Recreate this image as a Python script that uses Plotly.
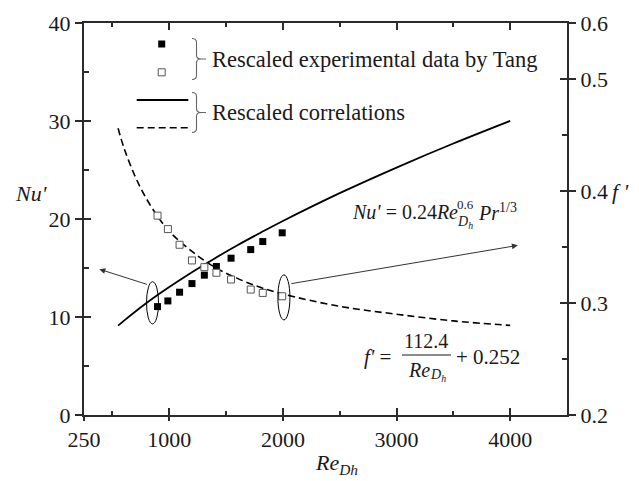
import plotly.graph_objects as go

# ---------------- data ----------------
re_exp = [897, 988, 1091, 1200, 1309, 1415, 1544, 1717, 1823, 1994]
nu_exp = [11.06, 11.64, 12.53, 13.41, 14.27, 15.15, 16.00, 16.88, 17.70, 18.59]
f_exp = [0.378, 0.366, 0.352, 0.338, 0.332, 0.327, 0.321, 0.312, 0.309, 0.306]

re_corr = [550, 600, 700, 800, 900, 1000, 1200, 1400, 1600, 1800, 2000, 2500, 3000, 3500, 4000]
nu_corr = [9.12, 9.61, 10.54, 11.42, 12.26, 13.06, 14.57, 15.98, 17.32, 18.58, 19.80, 22.64, 25.25, 27.70, 30.01]
f_corr = [0.456, 0.439, 0.413, 0.393, 0.377, 0.364, 0.346, 0.332, 0.322, 0.314, 0.308, 0.297, 0.290, 0.284, 0.280]

x_ticks = [250, 1000, 2000, 3000, 4000]
x_minor = [500, 1500, 2500, 3500]
nu_ticks = [0, 10, 20, 30, 40]
nu_minor = [5, 15, 25, 35]
f_ticks = [0.2, 0.3, 0.4, 0.5, 0.55]
f_ticktext = ["0.2", "0.3", "0.4", "0.5", "0.6"]
f_minor = [0.25, 0.35, 0.45]

legend_labels = ["Rescaled experimental data by Tang", "Rescaled correlations"]

# ---------------- geometry helpers ----------------
W, H = 639, 481
L, R, T, B = 84, 72, 23, 66
PW, PH = W - L - R, H - T - B


def px(x):
    return (x - L) / PW


def py(y):
    return (H - B - y) / PH


AX = "#2b2b2b"
TXT = "#1a1a1a"
SERIF = "Liberation Serif"
tickfont = dict(family=SERIF, size=22, color=TXT)

fig = go.Figure()

fig.add_trace(go.Scatter(x=re_corr, y=nu_corr, mode="lines",
                         line=dict(color="black", width=1.8, shape="spline"),
                         xaxis="x", yaxis="y", hoverinfo="skip"))
fig.add_trace(go.Scatter(x=re_exp, y=nu_exp, mode="markers",
                         marker=dict(symbol="square", size=7, color="black"),
                         xaxis="x", yaxis="y"))
fig.add_trace(go.Scatter(x=re_corr, y=f_corr, mode="lines",
                         line=dict(color="black", width=1.6, dash="7px,4px", shape="spline"),
                         xaxis="x", yaxis="y2", hoverinfo="skip"))
fig.add_trace(go.Scatter(x=re_exp, y=f_exp, mode="markers",
                         marker=dict(symbol="square", size=7, color="white",
                                     line=dict(color="#555555", width=1)),
                         xaxis="x", yaxis="y2"))
# helper (empty) traces so the tick-overlay axes are drawn
fig.add_trace(go.Scatter(x=[None], y=[None], xaxis="x2", yaxis="y", showlegend=False))
fig.add_trace(go.Scatter(x=[None], y=[None], xaxis="x", yaxis="y3", showlegend=False))
fig.add_trace(go.Scatter(x=[None], y=[None], xaxis="x", yaxis="y4", showlegend=False))

common = dict(showgrid=False, zeroline=False, tickcolor=AX, tickwidth=1.6)
LW = 2

fig.update_layout(
    width=W, height=H, margin=dict(l=L, r=R, t=T, b=B),
    plot_bgcolor="white", paper_bgcolor="white", showlegend=False,
    xaxis=dict(range=[250, 4500], tickmode="array", tickvals=x_ticks, ticks="outside",
               ticklen=4, showline=True, linecolor=AX, linewidth=LW, mirror=True,
               tickfont=tickfont, **common),
    xaxis2=dict(overlaying="x", range=[250, 4500], tickmode="array", tickvals=x_ticks,
                ticks="inside", ticklen=7, mirror="ticks", showline=False,
                showticklabels=False,
                minor=dict(tickmode="array", tickvals=x_minor, ticks="inside", ticklen=4,
                           tickcolor=AX, tickwidth=1.6),
                **common),
    yaxis=dict(range=[0, 40], tickmode="array", tickvals=nu_ticks, ticks="outside",
               ticklen=7, showline=True, linecolor=AX, linewidth=LW,
               tickfont=tickfont, **common),
    yaxis3=dict(overlaying="y", side="left", range=[0, 40], tickmode="array",
                tickvals=nu_ticks, ticks="inside", ticklen=7, showline=False,
                showticklabels=False,
                minor=dict(tickmode="array", tickvals=nu_minor, ticks="inside", ticklen=5,
                           tickcolor=AX, tickwidth=1.6),
                **common),
    yaxis2=dict(overlaying="y", side="right", range=[0.2, 0.55], tickmode="array",
                tickvals=f_ticks, ticktext=f_ticktext, ticks="outside", ticklen=7,
                showline=True, linecolor=AX, linewidth=LW, tickfont=tickfont, **common),
    yaxis4=dict(overlaying="y", side="right", range=[0.2, 0.55], tickmode="array",
                tickvals=f_ticks, ticks="inside", ticklen=7, showline=False,
                showticklabels=False,
                minor=dict(tickmode="array", tickvals=f_minor, ticks="inside", ticklen=5,
                           tickcolor=AX, tickwidth=1.6),
                **common),
)

shapes = []
# legend samples
shapes.append(dict(type="rect", xref="paper", yref="paper",
                   x0=px(158.2), x1=px(165.2), y0=py(47.5), y1=py(40.5),
                   fillcolor="black", line=dict(width=0)))
shapes.append(dict(type="rect", xref="paper", yref="paper",
                   x0=px(158.2), x1=px(165.2), y0=py(75.8), y1=py(68.8),
                   fillcolor="white", line=dict(color="#555555", width=1)))
shapes.append(dict(type="line", xref="paper", yref="paper",
                   x0=px(136.7), x1=px(188.3), y0=py(100), y1=py(100),
                   line=dict(color="black", width=1.8)))
shapes.append(dict(type="line", xref="paper", yref="paper",
                   x0=px(136.7), x1=px(188.3), y0=py(127.7), y1=py(127.7),
                   line=dict(color="black", width=1.6, dash="7px,4px")))


def brace(x0, ytop, ybot, d=9):
    ym = (ytop + ybot) / 2
    xm = x0 + d / 2
    pts = [
        ("M", [(x0, ytop)]),
        ("Q", [(xm, ytop), (xm, ytop + 4)]),
        ("L", [(xm, ym - 4)]),
        ("Q", [(xm, ym), (x0 + d, ym)]),
        ("L", [(x0 + d + 5, ym)]),
        ("M", [(x0 + d, ym)]),
        ("Q", [(xm, ym), (xm, ym + 4)]),
        ("L", [(xm, ybot - 4)]),
        ("Q", [(xm, ybot), (x0, ybot)]),
    ]
    s = ""
    for cmd, plist in pts:
        s += cmd + " " + " ".join(f"{px(a):.5f},{py(b):.5f}" for a, b in plist) + " "
    return dict(type="path", xref="paper", yref="paper", path=s.strip(),
                line=dict(color="#666666", width=1.1))


shapes.append(brace(192, 38.5, 79.5))
shapes.append(brace(192, 92.5, 132.5))

# ellipses (in data coordinates of Re / Nu')
shapes.append(dict(type="circle", xref="x", yref="y", x0=800, x1=906, y0=9.3, y1=13.6,
                   line=dict(color="black", width=1)))
shapes.append(dict(type="circle", xref="x", yref="y", x0=1956, x1=2062, y0=9.7, y1=14.3,
                   line=dict(color="black", width=1)))
# fraction bar
shapes.append(dict(type="line", xref="paper", yref="paper", x0=px(402), x1=px(451),
                   y0=py(355), y1=py(355), line=dict(color=TXT, width=1.2)))
fig.update_layout(shapes=shapes)

ann = []


def text(x, y, s, size=22, xanchor="left", yanchor="middle"):
    ann.append(dict(x=px(x), y=py(y), xref="paper", yref="paper", text=s, showarrow=False,
                    xanchor=xanchor, yanchor=yanchor,
                    font=dict(family=SERIF, size=size, color=TXT)))


text(210, 59, legend_labels[0], size=22.5)
text(210, 113, legend_labels[1], size=22.5)
# axis titles
text(31, 194, "<i>Nu'</i>", size=22, xanchor="center")
text(610, 191, "<i>f '</i>", size=22)
text(336, 464, "<i>Re<sub>Dh</sub></i>", size=22, xanchor="center")
# Nu' correlation
text(350, 212, "<i>Nu'</i> = 0.24<i>Re</i>", size=20)
text(455, 204, "0.6", size=13)
text(455, 222, "<i>D<sub>h</sub></i>", size=14)
text(476, 212, "<i>Pr</i><sup>1/3</sup>", size=20)
# f' correlation
text(362, 357, "<i>f'</i> =", size=21)
text(426, 341, "112.4", size=20, xanchor="center")
text(406, 370, "<i>Re</i>", size=20)
text(428, 375, "<i>D<sub>h</sub></i>", size=14)
text(454, 357, "+ 0.252", size=21)

# arrows
ann.append(dict(x=385, y=14.88, ax=817, ay=13.28, xref="x", yref="y", axref="x", ayref="y",
                text="", showarrow=True, arrowhead=2, arrowsize=1.2, arrowwidth=1,
                arrowcolor="#333333"))
ann.append(dict(x=4068, y=17.31, ax=2061, ay=13.38, xref="x", yref="y", axref="x", ayref="y",
                text="", showarrow=True, arrowhead=2, arrowsize=1.2, arrowwidth=1,
                arrowcolor="#333333"))
fig.update_layout(annotations=ann)

fig.write_html("out.html")
